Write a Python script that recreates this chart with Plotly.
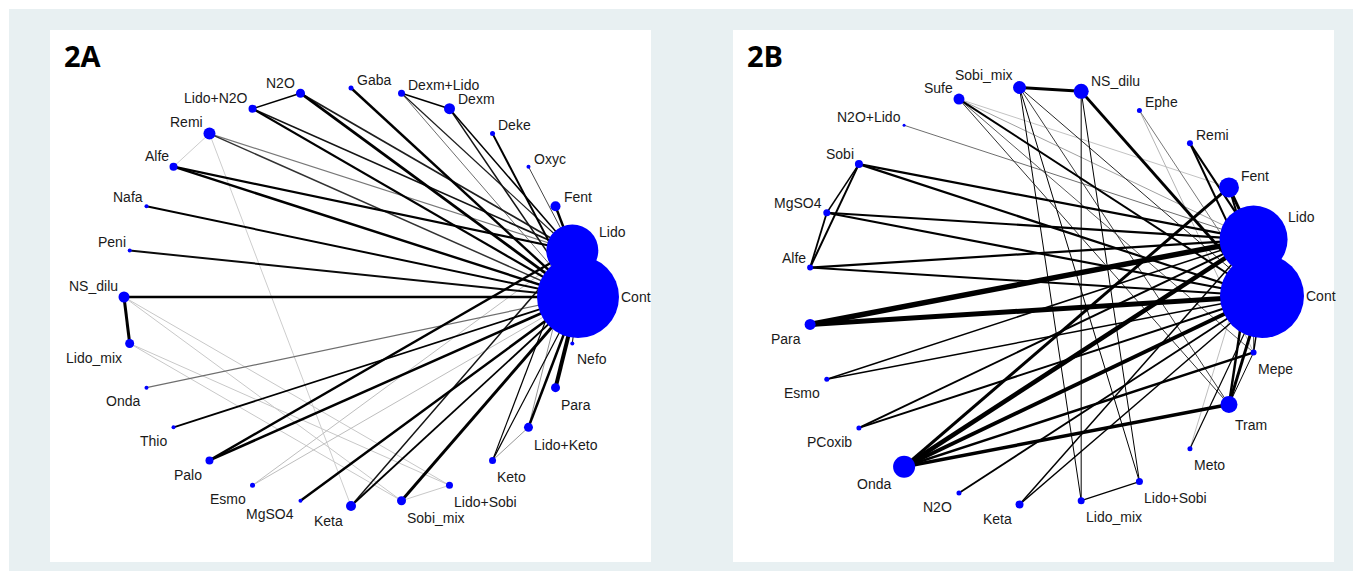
import math
import plotly.graph_objects as go

# ---------------- data ----------------
# Panel 2A: treatment nodes in circular order (counter-clockwise from Cont)
nodes_a = ["Cont", "Lido", "Fent", "Oxyc", "Deke", "Dexm", "Dexm+Lido", "Gaba",
           "N2O", "Lido+N2O", "Remi", "Alfe", "Nafa", "Peni", "NS_dilu",
           "Lido_mix", "Onda", "Thio", "Palo", "Esmo", "MgSO4", "Keta",
           "Sobi_mix", "Lido+Sobi", "Keto", "Lido+Keto", "Para", "Nefo"]
node_size_a = [82, 52, 10, 4, 5, 11, 7, 5, 9, 8, 12, 8, 4, 4, 11,
               9, 4, 4, 8, 5, 4, 10, 9, 7, 7, 9, 9, 4]
# comparisons: (node, node, line weight, grey level 0=black)
edges_a = [
    ("Lido", "Cont", 3.0, 0),
    ("Lido+N2O", "N2O", 1.5, 0),
    ("Lido+N2O", "Cont", 2.2, 0),
    ("Lido+N2O", "Lido", 1.8, 20),
    ("N2O", "Cont", 2.8, 0),
    ("N2O", "Lido", 1.8, 30),
    ("Gaba", "Cont", 2.4, 0),
    ("Dexm+Lido", "Dexm", 1.6, 0),
    ("Dexm+Lido", "Lido", 1.2, 30),
    ("Dexm+Lido", "Cont", 1.0, 110),
    ("Dexm", "Lido", 1.5, 0),
    ("Dexm", "Cont", 1.5, 20),
    ("Deke", "Cont", 2.0, 0),
    ("Oxyc", "Lido", 1.0, 70),
    ("Fent", "Lido", 2.5, 0),
    ("Remi", "Alfe", 1.0, 205),
    ("Remi", "Keta", 1.0, 205),
    ("Remi", "Lido", 1.2, 120),
    ("Remi", "Cont", 1.5, 50),
    ("Alfe", "Lido", 2.2, 0),
    ("Alfe", "Cont", 2.4, 0),
    ("Nafa", "Cont", 2.0, 0),
    ("Peni", "Cont", 2.0, 10),
    ("NS_dilu", "Cont", 2.5, 0),
    ("NS_dilu", "Lido_mix", 3.0, 0),
    ("NS_dilu", "Lido+Sobi", 1.0, 200),
    ("NS_dilu", "Sobi_mix", 1.0, 200),
    ("Lido_mix", "Lido+Sobi", 1.0, 200),
    ("Lido_mix", "Sobi_mix", 1.0, 200),
    ("Onda", "Cont", 1.2, 110),
    ("Thio", "Cont", 1.8, 0),
    ("Palo", "Lido", 2.4, 0),
    ("Palo", "Cont", 2.6, 0),
    ("Esmo", "Lido", 1.0, 190),
    ("Esmo", "Cont", 1.0, 190),
    ("MgSO4", "Cont", 2.5, 0),
    ("Keta", "Lido", 1.5, 20),
    ("Keta", "Cont", 1.8, 0),
    ("Sobi_mix", "Cont", 3.0, 0),
    ("Sobi_mix", "Lido+Sobi", 1.0, 200),
    ("Keto", "Lido", 1.2, 0),
    ("Keto", "Cont", 1.2, 0),
    ("Keto", "Lido+Keto", 1.0, 150),
    ("Lido+Keto", "Cont", 2.5, 0),
    ("Lido+Keto", "Lido", 1.0, 150),
    ("Para", "Cont", 4.0, 0),
    ("Nefo", "Cont", 1.0, 0),
]

# Panel 2B
nodes_b = ["Cont", "Lido", "Fent", "Remi", "Ephe", "NS_dilu", "Sobi_mix", "Sufe",
           "N2O+Lido", "Sobi", "MgSO4", "Alfe", "Para", "Esmo", "PCoxib", "Onda",
           "N2O", "Keta", "Lido_mix", "Lido+Sobi", "Meto", "Tram", "Mepe"]
node_size_b = [84, 68, 20, 6, 5, 15, 13, 11, 3, 8, 7, 6, 11, 5, 5, 22,
               5, 8, 7, 7, 5, 17, 6]
edges_b = [
    ("Lido", "Cont", 3.0, 0),
    ("Fent", "Lido", 3.0, 0),
    ("Fent", "Cont", 2.0, 0),
    ("Fent", "Onda", 3.0, 0),
    ("Remi", "Lido", 2.2, 0),
    ("Remi", "Cont", 2.0, 0),
    ("Ephe", "Cont", 1.0, 120),
    ("Ephe", "Mepe", 1.0, 180),
    ("NS_dilu", "Sobi_mix", 3.0, 0),
    ("NS_dilu", "Cont", 3.0, 0),
    ("NS_dilu", "Lido_mix", 1.0, 0),
    ("NS_dilu", "Lido+Sobi", 1.0, 0),
    ("Sobi_mix", "Lido_mix", 1.0, 0),
    ("Sobi_mix", "Lido+Sobi", 1.0, 0),
    ("Sobi_mix", "Cont", 1.0, 40),
    ("Sobi_mix", "Tram", 1.0, 60),
    ("Sufe", "Fent", 1.0, 195),
    ("Sufe", "Lido", 1.0, 160),
    ("Sufe", "Cont", 2.0, 0),
    ("Sufe", "Tram", 1.0, 50),
    ("Sufe", "Mepe", 1.0, 90),
    ("N2O+Lido", "Lido", 1.0, 110),
    ("Sobi", "MgSO4", 1.5, 0),
    ("Sobi", "Alfe", 2.0, 0),
    ("Sobi", "Lido", 2.2, 0),
    ("Sobi", "Cont", 2.2, 0),
    ("MgSO4", "Alfe", 1.8, 0),
    ("MgSO4", "Lido", 2.2, 0),
    ("MgSO4", "Cont", 2.2, 0),
    ("Alfe", "Lido", 2.2, 0),
    ("Alfe", "Cont", 2.0, 0),
    ("Para", "Lido", 5.5, 0),
    ("Para", "Cont", 5.0, 0),
    ("Esmo", "Lido", 1.5, 0),
    ("Esmo", "Cont", 1.5, 0),
    ("PCoxib", "Lido", 2.0, 0),
    ("PCoxib", "Cont", 2.0, 0),
    ("Onda", "Lido", 4.5, 0),
    ("Onda", "Cont", 4.0, 0),
    ("Onda", "Tram", 3.5, 0),
    ("Onda", "Mepe", 2.5, 0),
    ("N2O", "Cont", 1.8, 0),
    ("Keta", "Lido", 1.5, 0),
    ("Keta", "Cont", 1.5, 0),
    ("Lido_mix", "Lido+Sobi", 1.2, 0),
    ("Meto", "Cont", 1.2, 0),
    ("Meto", "Lido", 1.0, 190),
    ("Tram", "Cont", 3.0, 0),
    ("Tram", "Lido", 2.5, 0),
    ("Tram", "Mepe", 1.0, 0),
    ("Mepe", "Cont", 1.5, 0),
    ("Mepe", "Lido", 1.0, 80),
]

panel_titles = ["2A", "2B"]

# ---------------- layout constants ----------------
W, H = 1362, 576
RX, RY = 227, 209            # pixel radii of the node ring
panels = [
    dict(rect=(50, 30, 651, 562), centre=(351, 297), xa="x", ya="y",
         nodes=nodes_a, sizes=node_size_a, edges=edges_a, title=panel_titles[0]),
    dict(rect=(733, 30, 1334, 562), centre=(1035, 296), xa="x2", ya="y2",
         nodes=nodes_b, sizes=node_size_b, edges=edges_b, title=panel_titles[1]),
]
LABEL_FONT = dict(family="Liberation Sans, Arial, sans-serif", size=14, color="#1a1a1a")
NODE_COLOR = "#0000ff"

fig = go.Figure()
annotations = []
shapes = [dict(type="rect", xref="paper", yref="paper", x0=9 / W, x1=1353 / W,
               y0=1 - 571 / H, y1=1 - 9 / H, fillcolor="#e8f0f2",
               line=dict(width=0), layer="below")]
axes = {}

for k, p in enumerate(panels):
    names, sizes = p["nodes"], p["sizes"]
    n = len(names)
    ang = [360.0 * i / n for i in range(n)]
    xs = [math.cos(math.radians(a)) for a in ang]
    ys = [math.sin(math.radians(a)) for a in ang]
    pos = {nm: (xs[i], ys[i]) for i, nm in enumerate(names)}

    # edges, lighter ones drawn first
    for a, b, w, g in sorted(p["edges"], key=lambda e: -e[3]):
        fig.add_trace(go.Scatter(
            x=[pos[a][0], pos[b][0]], y=[pos[a][1], pos[b][1]],
            mode="lines", line=dict(color=f"rgb({g},{g},{g})", width=w),
            hoverinfo="skip", showlegend=False, xaxis=p["xa"], yaxis=p["ya"]))

    fig.add_trace(go.Scatter(
        x=xs, y=ys, mode="markers", text=names, hoverinfo="text",
        marker=dict(size=sizes, color=NODE_COLOR, opacity=1, line=dict(width=0)),
        opacity=1, showlegend=False, xaxis=p["xa"], yaxis=p["ya"]))

    # node labels placed outward according to the node's quadrant
    for i, nm in enumerate(names):
        a, r = ang[i], sizes[i] / 2.0
        if a < 1e-6:
            anc, dx, dy = "left", r + 1, 0
        elif a <= 90 + 1e-6:
            anc, dx, dy = "left", 0.9 * r + 2.5, -(7 + 0.45 * r)
        elif a <= 180 + 1e-6:
            anc, dx, dy = "right", -(1 + 0.7 * r), -(7.5 + 0.7 * r)
        elif a <= 270 + 1e-6:
            anc, dx, dy = "right", -(4 + 0.7 * r), 12.5 + 0.45 * r
        else:
            anc, dx, dy = "left", 0.35 * r + 2.5, 14 + 0.8 * r
        annotations.append(dict(
            x=xs[i], y=ys[i], xref=p["xa"], yref=p["ya"], text=nm,
            showarrow=False, xanchor=anc, yanchor="middle",
            xshift=dx, yshift=-dy, font=LABEL_FONT, borderpad=0))

    x0, y0, x1, y1 = p["rect"]
    cx, cy = p["centre"]
    shapes.append(dict(type="rect", xref="paper", yref="paper",
                       x0=x0 / W, x1=x1 / W, y0=1 - y1 / H, y1=1 - y0 / H,
                       fillcolor="white", line=dict(width=0), layer="below"))
    suffix = "" if k == 0 else "2"
    axes["xaxis" + suffix] = dict(domain=[x0 / W, x1 / W],
                                  range=[(x0 - cx) / RX, (x1 - cx) / RX],
                                  visible=False, fixedrange=True)
    axes["yaxis" + suffix] = dict(domain=[1 - y1 / H, 1 - y0 / H],
                                  range=[(cy - y1) / RY, (cy - y0) / RY],
                                  visible=False, fixedrange=True)
    annotations.append(dict(
        x=(x0 + 13) / W, y=1 - 56 / H, xref="paper", yref="paper",
        text=f"<b>{p['title']}</b>", showarrow=False, xanchor="left",
        yanchor="middle", borderpad=0,
        font=dict(family="Open Sans, Liberation Sans, sans-serif", size=29,
                  color="black")))

fig.update_layout(
    width=W, height=H, margin=dict(l=0, r=0, t=0, b=0),
    paper_bgcolor="white", plot_bgcolor="rgba(0,0,0,0)",
    shapes=shapes, annotations=annotations, **axes)

fig.write_html("out.html", config={"displayModeBar": False})
